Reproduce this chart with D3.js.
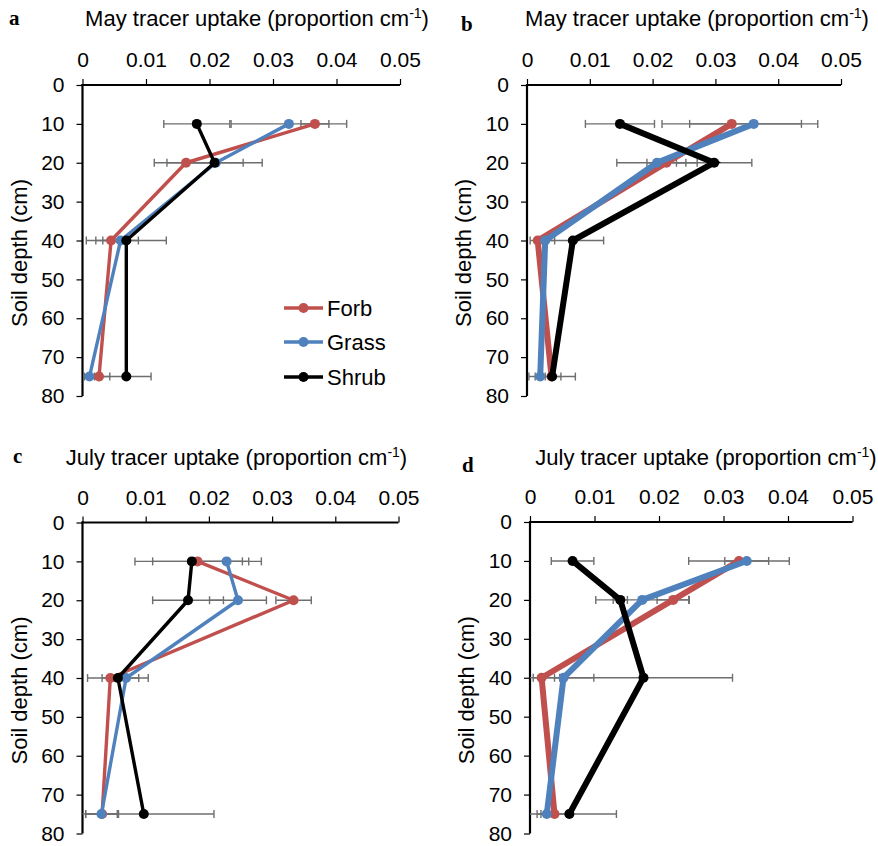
<!DOCTYPE html>
<html>
<head>
<meta charset="utf-8">
<script src="https://cdn.jsdelivr.net/npm/d3@7/dist/d3.min.js"></script>
<style>
  html, body { margin: 0; padding: 0; background: #fff; }
  svg { display: block; }
  text { font-family: "Liberation Sans", Arial, sans-serif; fill: #000; }
</style>
</head>
<body>
<svg id="chart" width="878" height="846"></svg>
<script>
// ---------- data ----------
const depths = [10, 20, 40, 75];
const xTicks = [0, 0.01, 0.02, 0.03, 0.04, 0.05];
const yTicks = [0, 10, 20, 30, 40, 50, 60, 70, 80];
const seriesNames = ["Forb", "Grass", "Shrub"];
const seriesColors = ["#C0504D", "#4F81BD", "#000000"];

// Panel a (May)
const forbA = [0.0366, 0.0163, 0.0045, 0.0026];
const forbAErr = [0.0022, 0.0050, 0.0024, 0.0017];
const grassA = [0.0325, 0.0210, 0.0060, 0.0011];
const grassAErr = [0.0091, 0.0043, 0.0028, 0.0008];
const shrubA = [0.0180, 0.0208, 0.0069, 0.0069];
const shrubAErr = [0.0052, 0.0075, 0.0063, 0.0039];

// Panel b (May)
const forbB = [0.0326, 0.0222, 0.0017, 0.0039];
const forbBErr = [0.0111, 0.0031, 0.0012, 0.0015];
const grassB = [0.0361, 0.0207, 0.0029, 0.0021];
const grassBErr = [0.0102, 0.0064, 0.0015, 0.0008];
const shrubB = [0.0148, 0.0298, 0.0073, 0.0040];
const shrubBErr = [0.0055, 0.0060, 0.0049, 0.0037];

// Panel c (July)
const forbC = [0.0182, 0.0334, 0.0044, 0.0031];
const forbCErr = [0.0071, 0.0028, 0.0013, 0.0026];
const grassC = [0.0228, 0.0246, 0.0069, 0.0030];
const grassCErr = [0.0055, 0.0045, 0.0020, 0.0025];
const shrubC = [0.0173, 0.0167, 0.0056, 0.0097];
const shrubCErr = [0.0090, 0.0056, 0.0048, 0.0111];

// Panel d (July)
const forbD = [0.0324, 0.0222, 0.0018, 0.0038];
const forbDErr = [0.0078, 0.0025, 0.0028, 0.0027];
const grassD = [0.0336, 0.0174, 0.0052, 0.0026];
const grassDErr = [0.0034, 0.0072, 0.0047, 0.0009];
const shrubD = [0.0066, 0.0140, 0.0176, 0.0061];
const shrubDErr = [0.0033, 0.0011, 0.0138, 0.0073];

const panelLetters = ["a", "b", "c", "d"];
const panelMonths = ["May", "May", "July", "July"];
const yTitle = "Soil depth (cm)";

// ---------- layout ----------
const panels = [
  { letter: panelLetters[0], month: panelMonths[0], x0: 82.5, x1: 400, y0: 85, y1: 396,
    values: [forbA, grassA, shrubA], errs: [forbAErr, grassAErr, shrubAErr],
    lw: 3.4, r: 5, titleX: 257, titleY: 26, letX: 9, letY: 25, legend: true, join: "round" },
  { letter: panelLetters[1], month: panelMonths[1], x0: 527, x1: 841, y0: 85, y1: 396,
    values: [forbB, grassB, shrubB], errs: [forbBErr, grassBErr, shrubBErr],
    lw: 6, r: 5, titleX: 697, titleY: 26, letX: 461, letY: 31, legend: false, join: "miter" },
  { letter: panelLetters[2], month: panelMonths[2], x0: 82.5, x1: 398.5, y0: 522.5, y1: 833.5,
    values: [forbC, grassC, shrubC], errs: [forbCErr, grassCErr, shrubCErr],
    lw: 3.4, r: 5, titleX: 236.5, titleY: 465, letX: 13, letY: 463, legend: false, join: "round" },
  { letter: panelLetters[3], month: panelMonths[3], x0: 530, x1: 852.5, y0: 522, y1: 833.5,
    values: [forbD, grassD, shrubD], errs: [forbDErr, grassDErr, shrubDErr],
    lw: 6, r: 5, titleX: 706, titleY: 465, letX: 462, letY: 472, legend: false, join: "miter" }
];

const svg = d3.select("#chart");
const fmt = d => d === 0 ? "0" : d3.format(".2f")(d);

panels.forEach(p => {
  const x = d3.scaleLinear().domain([0, 0.05]).range([p.x0, p.x1]);
  const y = d3.scaleLinear().domain([0, 80]).range([p.y0, p.y1]);
  const g = svg.append("g");

  // panel letter
  g.append("text").attr("x", p.letX).attr("y", p.letY)
    .style("font-family", "'Liberation Serif', 'Times New Roman', serif")
    .style("font-weight", "bold").style("font-size", "21px").text(p.letter);

  // title with superscript
  const t = g.append("text").attr("x", p.titleX).attr("y", p.titleY)
    .attr("text-anchor", "middle").style("font-size", "22px");
  t.append("tspan").text(p.month + " tracer uptake (proportion cm");
  t.append("tspan").attr("dy", -8).style("font-size", "14px").text("-1");
  t.append("tspan").attr("dy", 8).text(")");

  // x axis (top)
  const xAxis = d3.axisTop(x).tickValues(xTicks).tickFormat(fmt).tickSize(6).tickPadding(12);
  const gx = g.append("g").attr("transform", `translate(0,${p.y0})`).call(xAxis);
  gx.select(".domain").attr("stroke", "#000").attr("stroke-width", 2.2)
    .attr("d", `M${p.x0 - 1},0H${p.x1}`);
  gx.selectAll(".tick line").attr("stroke", "#000").attr("stroke-width", 1.2);
  gx.selectAll(".tick text").style("font-size", "21px").style("font-family", "'Liberation Sans', Arial, sans-serif");

  // y axis (left)
  const yAxis = d3.axisLeft(y).tickValues(yTicks).tickSize(6).tickPadding(12);
  const gy = g.append("g").attr("transform", `translate(${p.x0},0)`).call(yAxis);
  gy.select(".domain").attr("stroke", "#000").attr("stroke-width", 2.2)
    .attr("d", `M0,${p.y0 - 1}V${p.y1}`);
  gy.selectAll(".tick line").attr("stroke", "#000").attr("stroke-width", 1.2);
  gy.selectAll(".tick text").style("font-size", "21px").style("font-family", "'Liberation Sans', Arial, sans-serif");

  // y title
  const yc = (p.y0 + p.y1) / 2 + 12.5;
  const xt = p.x0 - 56;
  g.append("text").attr("transform", `translate(${xt},${yc}) rotate(-90)`)
    .attr("text-anchor", "middle").style("font-size", "22px").text(yTitle);

  // error bars
  const eg = g.append("g").attr("stroke", "#6e6e6e").attr("stroke-width", 1.4).attr("fill", "none");
  p.values.forEach((vals, si) => {
    vals.forEach((v, i) => {
      const e = p.errs[si][i];
      const lo = Math.max(0, v - e), hi = v + e;
      const yy = y(depths[i]);
      eg.append("line").attr("x1", x(lo)).attr("x2", x(hi)).attr("y1", yy).attr("y2", yy);
      if (v - e >= 0) eg.append("line").attr("x1", x(lo)).attr("x2", x(lo)).attr("y1", yy - 4).attr("y2", yy + 4);
      eg.append("line").attr("x1", x(hi)).attr("x2", x(hi)).attr("y1", yy - 4).attr("y2", yy + 4);
    });
  });

  // series lines + markers
  const line = d3.line().x(d => x(d.v)).y(d => y(d.d));
  p.values.forEach((vals, si) => {
    const pts = vals.map((v, i) => ({ v, d: depths[i] }));
    g.append("path").datum(pts).attr("d", line)
      .attr("fill", "none").attr("stroke", seriesColors[si]).attr("stroke-width", p.lw)
      .attr("stroke-linejoin", p.join).attr("stroke-linecap", "round");
    g.selectAll(null).data(pts).enter().append("circle")
      .attr("cx", d => x(d.v)).attr("cy", d => y(d.d)).attr("r", p.r)
      .attr("fill", seriesColors[si]);
  });

  // legend
  if (p.legend) {
    const legY = [308, 342, 377];
    seriesNames.forEach((name, si) => {
      const lg = g.append("g");
      lg.append("line").attr("x1", 284).attr("x2", 323).attr("y1", legY[si]).attr("y2", legY[si])
        .attr("stroke", seriesColors[si]).attr("stroke-width", 3.4);
      lg.append("circle").attr("cx", 303.5).attr("cy", legY[si]).attr("r", 5).attr("fill", seriesColors[si]);
      lg.append("text").attr("x", 327).attr("y", legY[si] + 7.5).style("font-size", "22px").text(name);
    });
  }
});
</script>
</body>
</html>
